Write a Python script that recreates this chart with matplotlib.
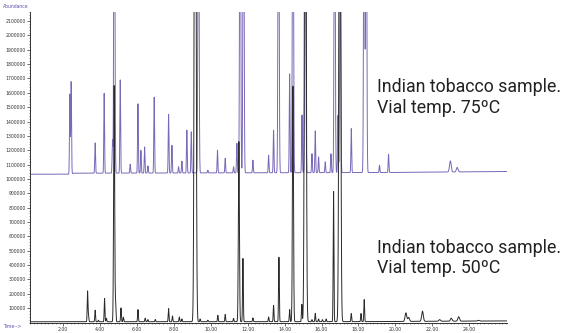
import numpy as np
import matplotlib
matplotlib.use("Agg")
import matplotlib.pyplot as plt
from matplotlib.ticker import MultipleLocator, FixedLocator

# retention time (min) and apex abundance of each peak
t75 = [2.36, 2.43, 3.73, 4.22, 4.67, 4.77, 5.09, 5.63, 6.05, 6.21, 6.41, 6.59,
       6.93, 7.71, 7.89, 8.25, 8.43, 8.70, 8.94, 9.33, 9.84, 10.36, 10.78,
       11.23, 11.41, 11.59, 11.77, 12.28, 13.13, 13.40, 13.67, 14.27, 14.45,
       14.94, 15.12, 15.48, 15.66, 15.84, 16.20, 16.51, 16.71, 16.89, 17.01,
       17.61, 18.31, 18.42, 19.14, 19.63, 22.98, 23.35]
h75 = [1590000, 1680000, 1252000, 1596000, 1270000, 4000000, 1693000, 1103000,
       1526000, 1200000, 1224000, 1091000, 1572000, 1452000, 1235000, 1085000,
       1124000, 1340000, 1328000, 4000000, 1061000, 1200000, 1143000, 1085000,
       1249000, 4000000, 4000000, 1131000, 1166000, 1340000, 4000000, 1735000,
       4000000, 1445000, 3000000, 1176000, 1335000, 1154000, 1119000, 1176000,
       4000000, 1445000, 2500000, 1352000, 4000000, 4000000, 1096000, 1173000,
       1126000, 1080000]
base75_t = [0.2, 2.3, 2.6, 19.7, 26.05]
base75_v = [1033000, 1033000, 1040000, 1045000, 1052000]

t50 = [3.32, 3.37, 3.73, 3.91, 4.24, 4.34, 4.76, 4.84, 5.13, 5.26, 6.05, 6.44,
       6.59, 6.99, 7.71, 7.92, 8.29, 8.43, 9.15, 9.26, 9.42, 9.84, 10.38,
       10.78, 11.23, 11.52, 11.74, 12.28, 13.13, 13.40, 13.69, 14.27, 14.45,
       14.93, 15.12, 15.48, 15.66, 15.84, 16.05, 16.25, 16.65, 16.99, 17.61,
       18.14, 18.31, 20.57, 20.72, 21.47, 22.40, 23.03, 23.43, 24.50]
h50 = [218000, 50000, 86000, 16000, 167000, 30000, 1650000, 120000, 102000,
       37000, 90000, 30000, 20000, 21000, 97000, 46000, 39000, 25000, 6000000,
       40000, 25000, 16000, 50000, 56000, 28000, 1260000, 446000, 32000, 39000,
       120000, 457000, 90000, 1650000, 127000, 5000000, 20000, 63000, 25000,
       20000, 25000, 917000, 5000000, 63000, 63000, 160000, 67000, 35000, 79000,
       20000, 30000, 40000, 15000]
base50_t = [0.2, 18.0, 26.05]
base50_v = [5000, 6000, 11000]

labels = ["Indian tobacco sample.\nVial temp. 75ºC",
          "Indian tobacco sample.\nVial temp. 50ºC"]

t = np.arange(0.2, 26.05, 0.004)


def trace(pt, ph, bt, bv):
    base = np.interp(t, bt, bv)
    y = base.copy()
    for t0, h in zip(pt, ph):
        h0 = h - np.interp(t0, bt, bv)
        if h0 < 1000000:
            s = 0.02
        elif h0 < 4500000:
            s = 0.028
        else:
            s = 0.042
        if t0 > 20:
            s = 0.045
        y += h0 * np.exp(-0.5 * ((t - t0) / s) ** 2)
    return y


y75 = trace(t75, h75, base75_t, base75_v)
y50 = trace(t50, h50, base50_t, base50_v)

fig = plt.figure(figsize=(5.61, 3.33), dpi=100)
ax = fig.add_axes([30 / 561, 1 - 322.5 / 333, 477 / 561, 310.5 / 333])
ax.plot(t, y75, color="#7a68b8", lw=0.7)
ax.plot(t, y50, color="#2a2a2a", lw=0.7)

ax.set_xlim(0.2, 26.05)
ax.set_ylim(0, 2163000)
for s in ["top", "right"]:
    ax.spines[s].set_visible(False)
for s in ["left", "bottom"]:
    ax.spines[s].set_color("#333333")
    ax.spines[s].set_linewidth(0.7)

ax.yaxis.set_major_locator(FixedLocator(np.arange(100000, 2100001, 100000)))
ax.yaxis.set_major_formatter(lambda v, p: f"{int(v)}")
ax.yaxis.set_minor_locator(MultipleLocator(20000))
ax.xaxis.set_major_locator(FixedLocator(np.arange(2, 25, 2)))
ax.xaxis.set_major_formatter(lambda v, p: f"{v:.2f}")
ax.xaxis.set_minor_locator(MultipleLocator(0.2))
ax.tick_params(which="major", length=2, width=0.5, pad=1, labelsize=3.3,
               colors="#333333")
ax.tick_params(which="minor", length=1, width=0.4, colors="#333333")

fig.text(3 / 561, 1 - 7 / 333, "Abundance", fontsize=3.3, color="#5b52b0",
         va="center", ha="left")
fig.text(3 / 561, 1 - 327 / 333, "Time-->", fontsize=3.3, color="#5b52b0",
         va="center", ha="left")

fig.text(377 / 561, 1 - 97.5 / 333, labels[0], fontsize=12.8, family="Roboto",
         color="#222222", va="center", ha="left", linespacing=1.15)
fig.text(377 / 561, 1 - 258 / 333, labels[1], fontsize=12.8, family="Roboto",
         color="#222222", va="center", ha="left", linespacing=1.15)

fig.savefig("out.png", dpi=100)
